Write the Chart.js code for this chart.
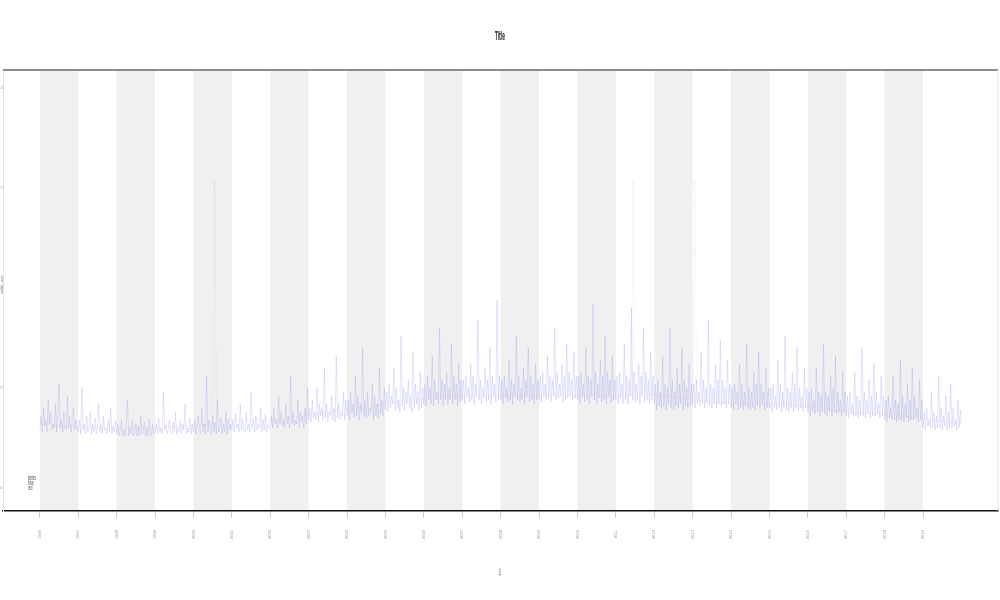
<!DOCTYPE html>
<html>
<head>
<meta charset="utf-8">
<script src="https://cdn.jsdelivr.net/npm/chart.js@4/dist/chart.umd.min.js"></script>
<style>
  html, body { margin: 0; padding: 0; background: #fff; }
  #box { width: 1000px; height: 600px; }
</style>
</head>
<body>
<div id="box"><canvas id="lineChart" width="1000" height="600"></canvas></div>
<script>
// tick labels along the bottom (one per band edge)
var xTickLabels = ['1996','1997','1998','1999','2000','2001','2002','2003','2004','2005','2006','2007',
                   '2008','2009','2010','2011','2012','2013','2014','2015','2016','2017','2018','2019'];
var yTickValues = [0, 25, 50, 75, 100];

// blue series, 32 samples per band step
var blueValues = [
  15,18,14,20,15.5,17,14,22,16,19,14.5,16,15,21,14,18,26,15,17,14,19,15,14.5,23,15,18,14,16.5,20,14.5,17,15,
  14,17,13.5,25,14.5,16,13.5,18,14,15,19,13.5,16,14,17.5,13.5,15,21,14,16,13.5,18,14.5,15,13.5,17,14,20,13.5,15.5,14,17,
  13.5,16,13,15,17,13,14.5,13,16,22,13,15,13.5,17,13,14,16,13,15.5,13,18,13.5,14,16.5,13,15,13,17,14,13,16,13.5,
  14,16,13.5,17.5,14,15,13.5,24,14.5,16,13.5,15,17,14,13.5,16.5,14,19,13.5,15,14,17,13.5,16,14.5,21,13.5,15,14,17.5,13.5,16,
  14,17,13.5,16,18,14,13.5,20,14,16,13.5,28,14,17,15,13.5,18,14,16.5,13.5,22,14,15,17.5,13.5,16,14,19,13.5,17,14.5,16,
  14.5,17,14,18.5,15,16,14,21,14.5,17,15,14,19,14.5,16,14,24,15,17,14,18,14.5,16,15,20,14,17,14.5,18.5,14,16,15,
  15.5,18,15,20,16,17,15,23,16,19,15.5,17,15,21,16,18,15,28,16,19,15.5,17,16,22,15,19,16.5,18,15,20,16,25,
  17,20,16.5,22,17.5,19,17,25,16.5,21,18,20,17,30,17.5,21,16.5,19,18,23,17,20,16.5,33,17.5,21,17,19,18,24,17,22,
  18,22,17,24,18.5,21,17.5,28,18,23,17,21,19,35,18,22,17.5,24,18,20,19,26,17,23,18,21,17.5,30,18.5,22,18,25,
  19.5,24,19,26,20,23,21,30,19.5,25,20,22,19,38,20.5,25,19.5,24,21,27,20,23,19,34,20,26,21,24,19.5,29,20,25,
  21,26,20.5,28,22,25,21,33,20.5,27,22,24,21,40,22,27,20.5,26,22,29,21,25,22,36,21,28,22,26,20.5,31,21.5,27,
  22,27,21,28,23,25,21.5,31,22,28,21,26,23,42,22,27,21,25,22.5,30,21.5,27,22,35,21,28,23,26,21.5,47,22,28,
  22,27,21,28,22.5,25,21.5,32,22,27,21,26,23,38,22,28,21.5,25,22,30,21,27,23,35,21.5,28,22,26,21,31,22,27,
  22,28,21.5,29,23,26,22,33,22.5,28,21.5,27,23,40,22,29,22.5,26,23,31,21.5,28,22,36,22.5,29,23,27,22,34,22.5,28,
  22,28,21,29,23,26,21.5,35,22,28,21,27,23,46,22,29,21,26,22.5,32,21.5,28,22,38,21,29,23,27,21.5,33,22,27,
  22,28,21,29,22.5,26,21,36,22,28,21,27,23,45,22,29,21.5,26,22,31,21,28,23,40,21.5,29,22,27,21,34,22,28,
  21,26,19.5,27,20.5,24,20,33,20.5,26,19.5,25,21,40,20,27,19.5,24,20.5,30,20,26,21,35,19.5,27,20.5,25,20,31,20.5,26,
  21,26,20,27,21,24,20.5,34,21,27,20,25,21,42,20.5,26,20,25,21,31,20,27,21,37,20.5,27,21,25,20,32,21,26,
  20,25,19.5,26,21,24,19.5,31,20,26,19.5,24,20.5,36,20,25,19.5,24,20,29,19.5,26,20.5,34,20,26,21,24,19.5,30,20,25,
  20,25,19,26,20,23,19.5,32,20,26,19,24,20,38,19.5,25,19,24,20,29,19,26,20,35,19.5,25,20,23,19,30,20,25,
  19,24,18,25,19,22,18.5,30,19,24,18,23,19,36,18.5,24,18,23,19,28,18,25,19,33,18.5,24,19,22,18,29,19,24,
  18,23,17.5,24,18.5,21,18,29,18,23,17.5,22,18,35,18,24,17.5,22,18.5,27,17.5,23,18,31,18,24,18.5,21,17.5,28,18,23,
  17,22,16.5,23,17.5,20,17,28,17,22,16.5,21,17,32,17,23,16.5,21,17.5,26,16.5,22,17,30,17,23,17.5,20,16.5,27,17,22,
  15,19,14.5,20,15.5,17,15,24,15,19,14.5,18,15,28,15,20,14.5,18,15.5,23,14.5,19,15,26,15,20,15.5,17,14.5,22,15,19.5,
  16
];

// faint red series with its few tall spikes
var redX      = [0, 1.5, 3, 4.5, 4.55, 4.6, 6, 7.5, 9, 10.5, 12, 13.5, 15.4, 15.45, 15.5, 17.0, 17.05, 17.1, 18, 19.5, 21, 22.5, 24];
var redValues = [16, 15, 15, 16, 77, 17, 17, 19, 21, 23, 23, 23, 23, 77, 24, 22, 77, 22, 21, 21, 19, 18, 16];

var samplesPerStep = 32;

$ = function(sel){ return document.querySelector(sel); };

var bandsPlugin = {
    id: 'bands',
    beforeDraw: function(chart) {
        var ctx = chart.ctx, a = chart.chartArea, xs = chart.scales.x;
        ctx.save();
        ctx.fillStyle = '#f0f0f0';
        for (var k = 0; k < xTickLabels.length - 1; k += 2) {
            var x0 = xs.getPixelForValue(k), x1 = xs.getPixelForValue(k + 1);
            ctx.fillRect(x0, a.top, x1 - x0, a.bottom - a.top);
        }
        ctx.restore();
    },
    afterDraw: function(chart) {
        var ctx = chart.ctx, a = chart.chartArea;
        ctx.save();
        // top rule
        ctx.strokeStyle = '#8c8c8c';
        ctx.lineWidth = 2;
        ctx.beginPath(); ctx.moveTo(a.left, a.top); ctx.lineTo(a.right, a.top); ctx.stroke();
        // right edge
        ctx.strokeStyle = '#e2e2e2';
        ctx.lineWidth = 1;
        ctx.beginPath(); ctx.moveTo(a.right, a.top); ctx.lineTo(a.right, a.bottom); ctx.stroke();
        // title, squeezed like the original
        ctx.fillStyle = '#333';
        ctx.textAlign = 'center';
        ctx.textBaseline = 'middle';
        ctx.save();
        ctx.translate(500, 37);
        ctx.scale(0.5, 1.6);
        ctx.font = 'bold 8px "DejaVu Sans", sans-serif';
        ctx.fillText('Title', 0, 0);
        ctx.restore();
        // x axis title
        ctx.fillStyle = '#888';
        ctx.save();
        ctx.translate(500, 572);
        ctx.rotate(-Math.PI / 2);
        ctx.font = '4px sans-serif';
        ctx.fillText('date', 0, 0);
        ctx.restore();
        // y axis title
        ctx.save();
        ctx.translate(2, 285);
        ctx.rotate(-Math.PI / 2);
        ctx.font = '4px sans-serif';
        ctx.fillText('value_unit', 0, 0);
        ctx.restore();
        // legend
        ctx.fillStyle = '#444';
        ctx.textAlign = 'left';
        ctx.save();
        ctx.translate(28, 478);
        ctx.scale(0.6, 1.3);
        ctx.font = '5px sans-serif';
        ctx.fillText('series', 0, 0);
        ctx.fillText('blue', 0, 4);
        ctx.fillText('red', 0, 8);
        ctx.restore();
        ctx.restore();
    }
};

var blueData = blueValues.map(function(v, i){ return {x: i / samplesPerStep, y: v}; });
var redData = redValues.map(function(v, i){ return {x: redX[i], y: v}; });

new Chart($('#lineChart'), {
    type: 'line',
    data: {
        datasets: [
            {
                label: 'red',
                data: redData,
                borderColor: 'rgba(230, 90, 90, 0.12)',
                borderWidth: 0.6,
                pointRadius: 0,
                tension: 0
            },
            {
                label: 'blue',
                data: blueData,
                borderColor: 'rgba(80, 80, 240, 0.3)',
                borderWidth: 0.5,
                pointRadius: 0,
                tension: 0
            }
        ]
    },
    options: {
        responsive: false,
        animation: false,
        layout: { padding: { top: 70, right: 2, left: 0, bottom: 0 } },
        plugins: {
            legend: { display: false },
            title: { display: false },
            tooltip: { enabled: false }
        },
        scales: {
            x: {
                type: 'linear',
                min: -0.96,
                max: 24.95,
                afterFit: function(scale) { scale.height = 89; },
                afterBuildTicks: function(scale) {
                    scale.ticks = xTickLabels.map(function(t, i){ return {value: i}; });
                },
                border: { color: '#111', width: 1.5 },
                grid: { drawOnChartArea: false, tickLength: 7, color: '#ccc' },
                ticks: {
                    autoSkip: false,
                    maxRotation: 90,
                    minRotation: 90,
                    padding: 12,
                    color: '#999',
                    font: { size: 4 },
                    callback: function(v) { return xTickLabels[v]; }
                }
            },
            y: {
                min: -5.75,
                max: 104.5,
                afterFit: function(scale) { scale.width = 3; },
                afterBuildTicks: function(scale) {
                    scale.ticks = yTickValues.map(function(v){ return {value: v}; });
                },
                border: { color: '#e2e2e2', width: 1 },
                grid: { display: false },
                ticks: {
                    crossAlign: 'far',
                    padding: 0,
                    color: '#aaa',
                    font: { size: 4 }
                }
            }
        }
    },
    plugins: [bandsPlugin]
});
</script>
</body>
</html>
